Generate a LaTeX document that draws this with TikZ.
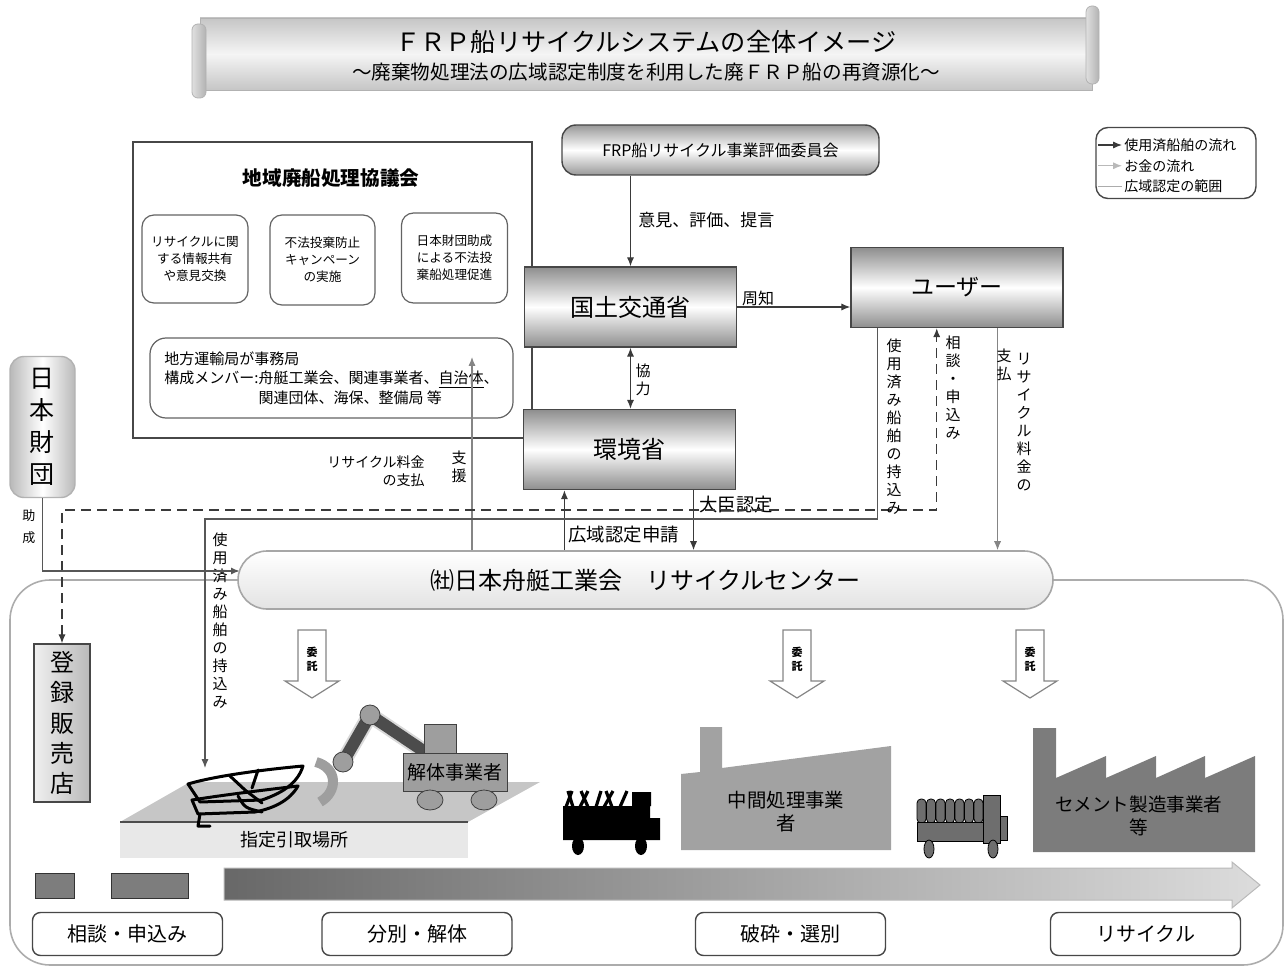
\documentclass[tikz,border=0pt]{standalone}
\usepackage{fontspec}
\setmainfont{Noto Sans CJK JP}
\usetikzlibrary{arrows.meta, positioning, calc}
\definecolor{edge}{HTML}{474747}
\definecolor{flowdk}{HTML}{3A3A3A}
\definecolor{flowlt}{HTML}{858585}
\definecolor{shadedk}{HTML}{8E8E8E}
\definecolor{factorya}{HTML}{A2A2A2}
\definecolor{factoryb}{HTML}{7C7C7C}
\definecolor{yardtop}{HTML}{C6C6C6}
\definecolor{yardfront}{HTML}{E8E8E8}
\definecolor{machine}{HTML}{9E9E9E}
\definecolor{truckgray}{HTML}{6E6E6E}
\definecolor{progdk}{HTML}{686868}
\definecolor{proglt}{HTML}{DCDCDC}
\newcommand{\fsz}[2]{\fontsize{#1}{#2}\selectfont}

\begin{document}
\begin{tikzpicture}[x=0.5pt, y=-0.5pt,
  box/.style={rectangle, draw=edge, line width=0.7pt, top color=shadedk, bottom color=shadedk,
    middle color=white, minimum width=106pt, minimum height=40pt, font=\fsz{12}{14}},
  rbox/.style={rectangle, rounded corners=6pt, draw=edge!85, line width=0.6pt, fill=white,
    align=center, font=\fsz{6.3}{8.5}},
  stage/.style={rectangle, rounded corners=4pt, draw=edge, line width=0.7pt, fill=white,
    minimum width=95pt, minimum height=21.5pt, font=\fsz{10}{12}},
  arr/.style={-{Latex[length=4.5pt, width=3.6pt]}, line width=0.6pt, flowdk},
  garr/.style={-{Latex[length=4.5pt, width=3.6pt]}, line width=0.6pt, flowlt},
  lbl/.style={font=\fsz{8.5}{10}, inner sep=1pt},
  vlbl/.style={font=\fsz{7.5}{9}, align=center, inner sep=1pt},
  legtext/.style={font=\fsz{7}{8}, inner sep=1pt, anchor=west},
  itaku/.style={draw=flowlt, fill=white, line width=0.6pt},
  hull/.style={line width=1.5pt, line join=round, line cap=round},
]
  \useasboundingbox (0,0) rectangle (1286,968);

  % title scroll
  \shade[top color=gray!45, bottom color=gray!45, middle color=gray!8, draw=gray!60] (200,18) rectangle (1092,90);
  \shade[left color=gray!25, right color=gray!60, draw=gray!60, rounded corners=3pt] (192,24) rectangle (206,98);
  \shade[left color=gray!25, right color=gray!60, draw=gray!60, rounded corners=3pt] (1086,6) rectangle (1099,84);
  \node[font=\fsz{12.6}{14}] (title) at (646,42) {ＦＲＰ船リサイクルシステムの全体イメージ};
  \node[font=\fsz{9.8}{12}] (subtitle) at (646,72) {～廃棄物処理法の広域認定制度を利用した廃ＦＲＰ船の再資源化～};

  % scope of the wide-area certification
  \node[draw=gray!65, line width=0.8pt, rounded corners=20pt, minimum width=636.5pt,
    minimum height=192.5pt] (scope) at (646.5,772.5) {};

  % regional council
  \node[draw=edge, line width=0.7pt, minimum width=199.5pt, minimum height=148pt] (council) at (332.5,290) {};
  \node[font=\fsz{9.8}{12}\bfseries] (ctitle) at (331,178) {地域廃船処理協議会};
  \node[rbox, minimum width=53pt, minimum height=44pt] (share) at (195,259) {リサイクルに関\\する情報共有\\や意見交換};
  \node[rbox, minimum width=52.5pt, minimum height=45pt] (campaign) at (322.5,260) {不法投棄防止\\キャンペーン\\の実施};
  \node[rbox, minimum width=53pt, minimum height=45pt] (disposal) at (454.5,258) {日本財団助成\\による不法投\\棄船処理促進};
  \node[rbox, rounded corners=8pt, minimum width=181.5pt, minimum height=40pt, align=left,
    font=\fsz{7.5}{9.8}] (office) at (331.5,378)
    {地方運輸局が事務局\\構成メンバー:舟艇工業会、関連事業者、\underline{自治体}、\\\phantom{構成メンバー:}関連団体、海保、整備局\ 等};
  \coordinate (jichitai) at (472,357);

  % ministries, committee, user
  \node[box, rounded corners=7pt, top color=gray!80, bottom color=gray!80, middle color=white,
    minimum width=158.5pt, minimum height=25pt, font=\fsz{8}{10}] (review) at (720.5,150) {FRP船リサイクル事業評価委員会};
  \node[box] (mlit) at (630.5,307) {国土交通省};
  \node[box] (moe) at (629.5,449.5) {環境省};
  \node[box, font=\fsz{11.5}{13}] (user) at (957,287.5) {ユーザー};

  % legend
  \node[draw=edge, line width=0.7pt, rounded corners=6pt, minimum width=80pt, minimum height=35.5pt] (legend) at (1176,163) {};
  \node[legtext] (lgship) at (1122,145) {使用済船舶の流れ};
  \node[legtext, below=1.5pt of lgship.south west, anchor=north west] (lgmoney) {お金の流れ};
  \node[legtext, below=1.5pt of lgmoney.south west, anchor=north west] (lgscope) {広域認定の範囲};
  \draw[arr] ($(lgship.west)+(-24,0)$) -- (lgship.west);
  \draw[garr, gray!55] ($(lgmoney.west)+(-24,0)$) -- (lgmoney.west);
  \draw[gray!65, line width=0.8pt] ($(lgscope.west)+(-24,0)$) -- (lgscope.west);

  % foundation and registered shop
  \node[rectangle, rounded corners=7pt, draw=gray!60, line width=0.7pt, left color=gray!55, right color=gray!55,
    middle color=white, minimum width=32.5pt, minimum height=70.5pt, align=center,
    font=\fsz{12.5}{16}] (nf) at (42.5,427) {日\\本\\財\\団};
  \node[rectangle, draw=edge, line width=0.7pt, left color=gray!12, right color=gray!55,
    minimum width=28pt, minimum height=79pt, align=center, font=\fsz{12}{15.2}] (shop) at (62,723) {登\\録\\販\\売\\店};

  % flows between the offices
  \draw[arr] (review.south -| mlit.north) -- (mlit.north);
  \node[lbl, anchor=west] (advice) at (636,220) {意見、評価、提言};
  \draw[arr] (mlit.east) -- (mlit.east -| user.west);
  \node[lbl, font=\fsz{8}{10}] (notice) at (758,298) {周知};
  \draw[arr, {Latex[length=4.5pt, width=3.6pt]}-{Latex[length=4.5pt, width=3.6pt]}] (mlit.south) -- (mlit.south |- moe.north);
  \node[vlbl] (coop) at (643,380) {協\\力};

  % recycle centre
  \node[draw=gray!70, line width=0.8pt, rounded corners=14.5pt, top color=white, bottom color=gray!22,
    minimum width=407.5pt, minimum height=29pt, font=\fsz{12}{14}] (centre) at (645.5,580) {㈳日本舟艇工業会　リサイクルセンター};

  \draw[garr] (centre.north -| jichitai) -- (jichitai);
  \node[vlbl] (support) at (459,467) {支\\援};
  \node[vlbl, align=right, font=\fsz{7}{9}, anchor=east] (feepay) at (427,471) {リサイクル料金\\の支払};

  \coordinate (appl) at ($(moe.south west)!0.195!(moe.south east)$);
  \coordinate (cert) at ($(moe.south west)!0.8!(moe.south east)$);
  \draw[arr] (appl |- centre.north) -- (appl);
  \node[lbl, font=\fsz{9.2}{11}, anchor=west] (appllbl) at (566,535) {広域認定申請};
  \draw[arr] (cert) -- (cert |- centre.north);
  \node[lbl, font=\fsz{9.2}{11}, anchor=west] (certlbl) at (697,505) {大臣認定};

  \coordinate (fee) at ($(user.south west)!0.69!(user.south east)$);
  \draw[garr] (fee) -- (fee |- centre.north);
  \node[vlbl] (feeA) at (1024,422) {リ\\サ\\イ\\ク\\ル\\料\\金\\の};
  \node[vlbl] (feeB) at (1004,365) {支\\払};

  % consultation (dashed)
  \coordinate (consult) at ($(user.south west)!0.405!(user.south east)$);
  \coordinate (dashrow) at (0,510);
  \draw[arr, dashed, dash pattern=on 5pt off 3pt, {Latex[length=4.5pt, width=3.6pt]}-{Latex[length=4.5pt, width=3.6pt]}]
    (shop.north) |- (consult |- dashrow) -- (consult);
  \node[vlbl] (consultlbl) at (953,388) {相\\談\\・\\申\\込\\み};

  % bringing in used boats
  \coordinate (bring) at ($(user.south west)!0.127!(user.south east)$);
  \coordinate (bringrow) at (0,519);
  \coordinate (boat) at (205,768);
  \draw[arr, flowdk!85] (bring) |- (boat |- bringrow) -- (boat);
  \node[vlbl] (bringlbl) at (894,427) {使\\用\\済\\み\\船\\舶\\の\\持\\込\\み};
  \node[vlbl] (bringlbl2) at (220,621) {使\\用\\済\\み\\船\\舶\\の\\持\\込\\み};

  % grant
  \coordinate (grant) at (240,571);
  \draw[arr, line width=0.9pt, flowdk!85] (nf.south) |- (grant);
  \node[vlbl, font=\fsz{6.5}{11}] (grantlbl) at (29,527) {助\\成};

  % entrustment arrows
  \foreach \cx/\nm in {312/a, 797/b, 1030/c}{
    \draw[itaku] (\cx-14,630) -- (\cx+14,630) -- (\cx+14,681) -- (\cx+27,681) -- (\cx,698)
      -- (\cx-27,681) -- (\cx-14,681) -- cycle;
    \node[font=\fsz{5.5}{7}\bfseries, align=center, inner sep=0pt] (entrust\nm) at (\cx,659) {委\\託};
  }

  % handover yard
  \fill[yardtop] (190,782) -- (540,782) -- (468,822) -- (120,822) -- cycle;
  \fill[yardfront] (120,822) rectangle (468,858);
  \draw[line width=1.2pt, black!70] (120,822) -- (468,822);
  \node[font=\fsz{9}{11}] (yard) at (294,840) {指定引取場所};

  % scrapped hulls
  \draw[hull] (188,784) .. controls (215,776) and (260,770) .. (303,766)
    .. controls (298,782) and (285,792) .. (262,800) -- (200,802) -- cycle;
  \draw[hull] (192,800) .. controls (230,794) and (265,790) .. (298,786)
    .. controls (290,800) and (275,808) .. (255,812) -- (198,814) -- cycle;
  \draw[hull] (230,776) -- (245,790) -- (262,803) (258,770) -- (252,788)
    (200,814) -- (198,826) -- (210,826) (238,796) .. controls (245,808) .. (262,812);

  % excavator
  \draw[line width=8pt, gray!30, line cap=round, line join=round] (425,752) -- (370,715) -- (343,762);
  \draw[line width=6pt, gray!60!black, line cap=round, line join=round] (425,752) -- (370,715) -- (343,762);
  \draw[fill=machine, draw=gray!50!black, line width=0.4pt] (370,715) circle (10);
  \draw[fill=machine, draw=gray!50!black, line width=0.4pt] (343,762) circle (10);
  \draw[line width=5pt, machine] (316,762) .. controls (338,768) and (338,792) .. (320,802);
  \draw[fill=machine, draw=gray!50!black, line width=0.4pt] (424,724) rectangle (456,753);
  \node[draw=gray!50!black, fill=machine, minimum width=52pt, minimum height=19pt, inner sep=1pt,
    font=\fsz{9.5}{11}] (wrecker) at (455,772) {解体事業者};
  \draw[fill=machine, draw=gray!50!black, line width=0.4pt] (430,800) ellipse [x radius=13, y radius=10];
  \draw[fill=machine, draw=gray!50!black, line width=0.4pt] (484,800) ellipse [x radius=13, y radius=10];

  % truck with crushed pieces
  \fill[black] (563,806) rectangle (650,840) (650,818) rectangle (660,840) (632,792) rectangle (651,806);
  \foreach \sx/\dx in {566/6,573/-5,580/8,588/-7,596/5,604/9,612/-6,620/7}
    \draw[black, line width=1.6pt] (\sx,807) -- (\sx+\dx,791);
  \fill[black] (578,846) ellipse [x radius=6, y radius=9];
  \fill[black] (641,846) ellipse [x radius=6, y radius=9];

  % intermediate treatment plant
  \fill[factorya] (681,850) -- (681,774) -- (700,772) -- (700,727) -- (722,727) -- (722,768)
    -- (891,746) -- (891,850) -- cycle;
  \node[font=\fsz{9.7}{11.5}, align=center] (midproc) at (786,812) {中間処理事業\\者};

  % truck with bales
  \foreach \i in {0,...,6}
    \draw[fill=truckgray, draw=black, line width=0.4pt, rounded corners=2pt] (917+\i*9.5,823) rectangle +(9,-24);
  \draw[fill=truckgray, draw=black, line width=0.4pt] (917,822) rectangle (985,841);
  \draw[fill=truckgray, draw=black, line width=0.4pt] (1000,816) rectangle (1007,840);
  \draw[fill=truckgray, draw=black, line width=0.4pt] (983,795) rectangle (1000,843);
  \draw[fill=truckgray, draw=black, line width=0.4pt] (929,849) ellipse [x radius=5, y radius=9];
  \draw[fill=truckgray, draw=black, line width=0.4pt] (993,849) ellipse [x radius=5, y radius=9];

  % cement plant
  \fill[factoryb] (1033,852) -- (1033,728) -- (1056,728) -- (1056,778) -- (1106,756) -- (1106,778)
    -- (1156,756) -- (1156,778) -- (1205,756) -- (1205,778) -- (1255,756) -- (1255,852) -- cycle;
  \node[font=\fsz{9.3}{11.5}, align=center] (cement) at (1139,816) {セメント製造事業者\\等};

  % process arrow and stages
  \draw[fill=truckgray!90, draw=gray!40!black, line width=0.4pt] (35,873) rectangle (74,898);
  \draw[fill=truckgray!90, draw=gray!40!black, line width=0.4pt] (111,873) rectangle (188,898);
  \shade[left color=progdk, right color=proglt, draw=gray!55, line width=0.5pt]
    (224,868) -- (1232,868) -- (1232,862) -- (1260,885) -- (1232,908) -- (1232,900) -- (224,900) -- cycle;
  \node[stage] (s1) at (127.5,934) {相談・申込み};
  \node[stage] (s2) at (417,934) {分別・解体};
  \node[stage] (s3) at (790.5,934) {破砕・選別};
  \node[stage] (s4) at (1145.5,934) {リサイクル};
\end{tikzpicture}
\end{document}
